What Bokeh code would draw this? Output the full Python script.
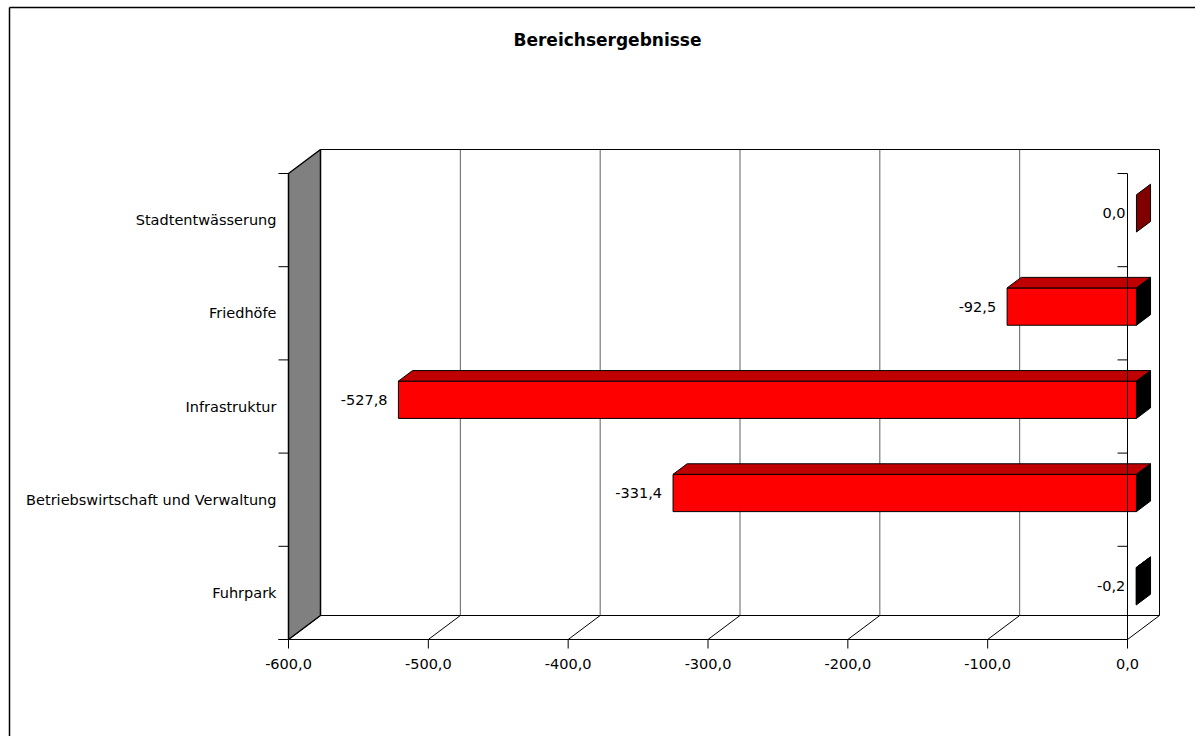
from bokeh.plotting import figure
from bokeh.models import Range1d
from bokeh.embed import file_html
from bokeh.resources import INLINE
from bokeh.core.properties import value

# ---------------- data ----------------
title_text = "Bereichsergebnisse"
categories = ["Fuhrpark", "Betriebswirtschaft und Verwaltung", "Infrastruktur",
              "Friedhöfe", "Stadtentwässerung"]
values = [-0.2, -331.4, -527.8, -92.5, 0.0]
x_ticks = [-600, -500, -400, -300, -200, -100, 0]
x_min, x_max = -600, 0


def fmt(v):
    return f"{v:.1f}".replace(".", ",").replace("-0,0", "0,0")


# ---------------- layout (pixels) ----------------
W, H = 1195, 736
PX_LEFT, PX_RIGHT = 288, 1127     # front plane x of x_min / x_max
PY_BOTTOM, PY_TOP = 639, 173      # front plane y of category axis bottom/top
DEPTH_X, DEPTH_Y = 32, 24         # 3D depth offset in px
n = len(categories)

SX = (PX_RIGHT - PX_LEFT) / (x_max - x_min)
SY = (PY_BOTTOM - PY_TOP) / n


def vx(px):
    return x_max + (px - PX_RIGHT) / SX


def vy(py):
    return (PY_BOTTOM - py) / SY


DX = DEPTH_X / SX
DY = DEPTH_Y / SY

p = figure(width=W, height=H, output_backend="svg", toolbar_location=None,
           x_range=Range1d(vx(0), vx(W)), y_range=Range1d(vy(H), vy(0)),
           x_axis_type=None, y_axis_type=None, min_border=0,
           outline_line_color=None, background_fill_color="white",
           border_fill_color="white")

FONT = value("DejaVu Sans")

# outer chart border (left, top)
p.segment(x0=[vx(9), vx(9)], y0=[vy(H), vy(7)], x1=[vx(9), vx(W)], y1=[vy(7), vy(7)],
          line_color="black", line_width=1.5)

# back wall gridlines
grid_x = [t + DX for t in x_ticks[1:-1]]
p.segment(x0=grid_x, y0=[DY] * len(grid_x), x1=grid_x, y1=[n + DY] * len(grid_x),
          line_color="#606060", line_width=1)
# back wall frame (top + right edge)
p.line(x=[x_min + DX, x_max + DX, x_max + DX], y=[n + DY, n + DY, DY],
       line_color="black", line_width=1)

# floor
p.line(x=[x_min + DX, x_max + DX], y=[DY, DY], line_color="black", line_width=1)
p.segment(x0=x_ticks, y0=[0] * len(x_ticks), x1=[t + DX for t in x_ticks],
          y1=[DY] * len(x_ticks), line_color="black", line_width=1)
p.line(x=[x_min - 10 / SX, x_max], y=[0, 0], line_color="black", line_width=1)
# bottom tick marks
p.segment(x0=x_ticks, y0=[0] * len(x_ticks), x1=x_ticks, y1=[-9 / SY] * len(x_ticks),
          line_color="black", line_width=1)

# left wall
p.patch(x=[x_min, x_min, x_min + DX, x_min + DX], y=[0, n, n + DY, DY],
        fill_color="#808080", line_color="black", line_width=1.5)
# category tick marks on the left
cat_edges = list(range(n + 1))
p.segment(x0=[x_min - 10 / SX] * len(cat_edges), y0=cat_edges,
          x1=[x_min] * len(cat_edges), y1=cat_edges, line_color="black", line_width=1)

# bars (3D)
F1, F2 = 0.28, 0.72
HALF = 0.2
front_l, front_r, front_b, front_t = [], [], [], []
top_xs, top_ys, cap_xs, cap_ys, cap_colors = [], [], [], [], []
for i, v in enumerate(values):
    lo, hi = min(v, 0), max(v, 0)
    yb, yt = i + 0.5 - HALF, i + 0.5 + HALF
    front_l.append(lo + F1 * DX)
    front_r.append(hi + F1 * DX)
    front_b.append(yb + F1 * DY)
    front_t.append(yt + F1 * DY)
    top_xs.append([lo + F1 * DX, hi + F1 * DX, hi + F2 * DX, lo + F2 * DX])
    top_ys.append([yt + F1 * DY, yt + F1 * DY, yt + F2 * DY, yt + F2 * DY])
    cap_xs.append([hi + F1 * DX, hi + F1 * DX, hi + F2 * DX, hi + F2 * DX])
    cap_ys.append([yb + F1 * DY, yt + F1 * DY, yt + F2 * DY, yb + F2 * DY])
    cap_colors.append("#800000" if v >= 0 else "black")

nz = [i for i, v in enumerate(values) if v != 0]
p.quad(left=[front_l[i] for i in nz], right=[front_r[i] for i in nz],
       bottom=[front_b[i] for i in nz], top=[front_t[i] for i in nz],
       fill_color="#FF0000", line_color="black", line_width=1)
p.patches(xs=[top_xs[i] for i in nz], ys=[top_ys[i] for i in nz],
          fill_color="#C00000", line_color="black", line_width=1)
p.patches(xs=cap_xs, ys=cap_ys, fill_color=cap_colors, line_color="black", line_width=1)

# value axis line at 0 with category ticks (drawn over bars)
p.line(x=[x_max, x_max], y=[0, n], line_color="black", line_width=1)
p.segment(x0=[x_max - 10 / SX] * len(cat_edges), y0=cat_edges,
          x1=[x_max] * len(cat_edges), y1=cat_edges, line_color="black", line_width=1)

# category labels
p.text(x=[x_min] * n, y=[i + 0.5 for i in range(n)], text=categories,
       text_align="right", text_baseline="middle", x_offset=-12,
       text_font=FONT, text_font_size="14.5px", text_color="black")

# value labels
p.text(x=values, y=[i + 0.5 + F1 * DY for i in range(n)], text=[fmt(v) for v in values],
       text_align="right", text_baseline="middle", x_offset=-2,
       text_font=FONT, text_font_size="14.5px", text_color="black")

# x tick labels
p.text(x=x_ticks, y=[0] * len(x_ticks), text=[fmt(t) for t in x_ticks],
       text_align="center", text_baseline="middle", y_offset=24,
       text_font=FONT, text_font_size="14.5px", text_color="black")

# title
p.text(x=[vx(607)], y=[vy(39)], text=[title_text], text_align="center",
       text_baseline="middle", text_font=FONT, text_font_size="17px",
       text_font_style="bold", text_color="black")

open("out.html", "w").write(file_html(p, INLINE))
